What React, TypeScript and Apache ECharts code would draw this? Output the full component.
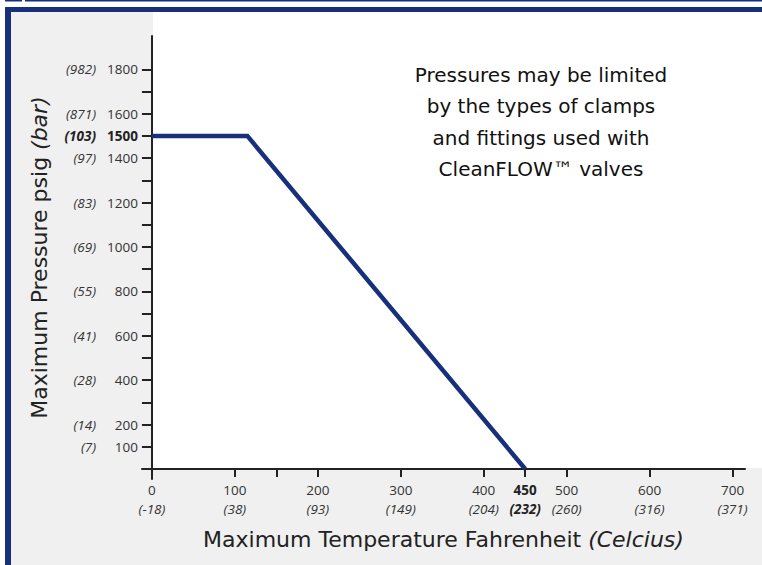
import React, { useEffect, useRef } from "react";
import * as echarts from "echarts";

// ---- data ----
const tempF = [0, 115, 450];
const pressurePsig = [1500, 1500, 0];

const tempLabelValues = [0, 100, 200, 300, 400, 450, 500, 600, 700];
const tempCelsius = [-18, 38, 93, 149, 204, 232, 260, 316, 371];
const tempTickValues = [0, 100, 150, 200, 300, 400, 450, 500, 600, 700];

const pressureLabelValues = [100, 200, 400, 600, 800, 1000, 1200, 1400, 1500, 1600, 1800];
const pressureBar = [7, 14, 28, 41, 55, 69, 83, 97, 103, 871, 982];
const pressureTickValues = [
  100, 200, 300, 400, 500, 600, 700, 800, 900, 1000, 1100, 1200, 1300, 1400, 1500, 1600, 1700, 1800,
];

const highlightTemp = 450;
const highlightPressure = 1500;

const noteLines = [
  "Pressures may be limited",
  "by the types of clamps",
  "and fittings used with",
  "CleanFLOW\u2122 valves",
];

const NAVY = "#16307c";
const GREY_BG = "#eff0ef";
const LABEL_FONT = "'Open Sans', 'Liberation Sans', sans-serif";
const TITLE_FONT = "'DejaVu Sans', 'Liberation Sans', sans-serif";

export default function App() {
  const ref = useRef<HTMLDivElement>(null);

  useEffect(() => {
    if (!ref.current) return;
    const chart = echarts.init(ref.current, undefined, { renderer: "svg" });

    const lblBase = { fontFamily: LABEL_FONT, fontSize: 13.5, color: "#333" };

    const option: any = {
      animation: false,
      backgroundColor: GREY_BG,
      grid: {
        left: 142,
        right: 17,
        top: 36,
        bottom: 86,
        containLabel: false,
        outerBoundsMode: "none",
      },
      graphic: [
        // white margins outside the frame
        { type: "rect", z: -100, silent: true, shape: { x: 0, y: 0, width: 762, height: 7 }, style: { fill: "#ffffff" } },
        { type: "rect", z: -100, silent: true, shape: { x: 0, y: 0, width: 5, height: 565 }, style: { fill: "#ffffff" } },
        // white plot panel
        { type: "rect", z: -100, silent: true, shape: { x: 153, y: 12, width: 609, height: 456 }, style: { fill: "#ffffff" } },
        // frame
        { type: "rect", silent: true, shape: { x: 5, y: 0, width: 17, height: 1.5 }, style: { fill: NAVY } },
        { type: "rect", silent: true, shape: { x: 25, y: 0, width: 737, height: 1.5 }, style: { fill: NAVY } },
        { type: "rect", silent: true, shape: { x: 5, y: 7, width: 757, height: 5 }, style: { fill: NAVY } },
        { type: "rect", silent: true, shape: { x: 5, y: 7, width: 6, height: 558 }, style: { fill: NAVY } },
        // note
        {
          type: "text",
          silent: true,
          style: {
            x: 541,
            y: 122,
            text: noteLines.join("\n"),
            align: "center",
            verticalAlign: "middle",
            fontFamily: TITLE_FONT,
            fontSize: 20,
            lineHeight: 31.5,
            fill: "#111",
          },
        },
      ],
      xAxis: {
        type: "value",
        min: -12,
        max: 715,
        name: "Maximum Temperature Fahrenheit {it|(Celcius)}",
        nameLocation: "middle",
        nameGap: 49,
        nameMoveOverlap: false,
        nameTextStyle: {
          fontFamily: TITLE_FONT,
          fontSize: 22,
          color: "#222",
          rich: {
            it: { fontFamily: TITLE_FONT, fontSize: 22, fontStyle: "italic", color: "#222" },
          },
        },
        axisLine: { onZero: true, lineStyle: { color: "#222", width: 2 } },
        axisTick: {
          customValues: tempTickValues,
          length: 8,
          lineStyle: { color: "#222", width: 2 },
        },
        axisLabel: {
          customValues: tempLabelValues,
          margin: 1,
          formatter: (v: number) => {
            const i = tempLabelValues.indexOf(v);
            if (i < 0) return "";
            const c = tempCelsius[i];
            if (v === highlightTemp) return `{nb|${v}}\n{ib|(${c})}`;
            return `{n|${v}}\n{i|(${c})}`;
          },
          rich: {
            n: { ...lblBase, lineHeight: 19 },
            i: { ...lblBase, fontStyle: "italic", lineHeight: 19 },
            nb: { ...lblBase, fontWeight: "bold", color: "#222", lineHeight: 19 },
            ib: { ...lblBase, fontStyle: "italic", fontWeight: "bold", color: "#222", lineHeight: 19 },
          },
        },
        splitLine: { show: false },
      },
      yAxis: {
        type: "value",
        min: -45,
        max: 1950,
        name: "Maximum Pressure psig {it|(bar)}",
        nameLocation: "middle",
        nameGap: 92,
        nameMoveOverlap: false,
        nameRotate: 90,
        nameTextStyle: {
          fontFamily: TITLE_FONT,
          fontSize: 22,
          color: "#222",
          rich: {
            it: { fontFamily: TITLE_FONT, fontSize: 22, fontStyle: "italic", color: "#222" },
          },
        },
        axisLine: { onZero: true, lineStyle: { color: "#222", width: 2 } },
        axisTick: {
          customValues: pressureTickValues,
          length: 10,
          lineStyle: { color: "#222", width: 2 },
        },
        axisLabel: {
          customValues: pressureLabelValues,
          margin: 4,
          formatter: (v: number) => {
            const i = pressureLabelValues.indexOf(v);
            if (i < 0) return "";
            const b = pressureBar[i];
            if (v === highlightPressure) return `{ib|(${b})}{nb|${v}}`;
            return `{i|(${b})}{n|${v}}`;
          },
          rich: {
            n: { ...lblBase, width: 42, align: "right" },
            i: { ...lblBase, fontStyle: "italic" },
            nb: { ...lblBase, fontWeight: "bold", color: "#222", width: 42, align: "right" },
            ib: { ...lblBase, fontStyle: "italic", fontWeight: "bold", color: "#222" },
          },
        },
        splitLine: { show: false },
      },
      series: [
        {
          type: "line",
          data: tempF.map((t, i) => [t, pressurePsig[i]]),
          showSymbol: false,
          symbol: "none",
          lineStyle: { color: NAVY, width: 4.5, join: "miter", cap: "butt" },
          z: 5,
        },
      ],
    };

    chart.setOption(option);
    return () => chart.dispose();
  }, []);

  return (
    <div
      ref={ref}
      style={{ position: "absolute", left: 0, top: 0, width: 762, height: 565 }}
    />
  );
}
